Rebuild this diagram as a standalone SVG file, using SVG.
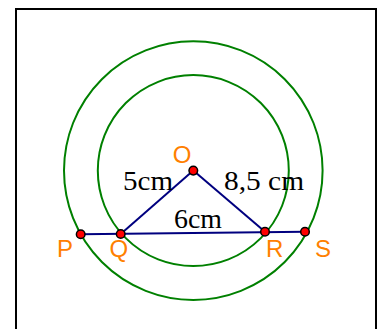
<svg xmlns="http://www.w3.org/2000/svg" width="383" height="329" viewBox="0 0 383 329">
<style>
.circ{fill:none;stroke:#008000;stroke-width:2}
.seg{stroke:#00007f;stroke-width:2;fill:none}
.pt{fill:#ff0000;stroke:#000;stroke-width:1.5}
.lbl{font-family:"Liberation Sans",Arial,sans-serif;font-size:24px;fill:#ff8000}
.len{font-family:"Liberation Serif","Times New Roman",serif;font-size:27px;fill:#000}
</style>
<rect x="16" y="9" width="360" height="330" fill="#fff" stroke="#000" stroke-width="2"/>
<g id="circles">
<circle id="outer" class="circ" cx="193.3" cy="170.6" r="129.3"/>
<circle id="inner" class="circ" cx="193.3" cy="170.6" r="95.5"/>
</g>
<g id="connectors">
<line class="seg" x1="80.7" y1="234.3" x2="305" y2="231.7"/>
<line class="seg" x1="120.7" y1="234" x2="193.3" y2="170.6"/>
<line class="seg" x1="193.3" y1="170.6" x2="265" y2="231.7"/>
</g>
<g id="O"><circle class="pt" cx="193.3" cy="170.6" r="4.3"/><text class="lbl" x="182" y="162.5" text-anchor="middle">O</text></g>
<g id="P"><circle class="pt" cx="80.7" cy="234.3" r="4.3"/><text class="lbl" x="57" y="257">P</text></g>
<g id="Q"><circle class="pt" cx="120.7" cy="234" r="4.3"/><text class="lbl" x="109.5" y="257">Q</text></g>
<g id="R"><circle class="pt" cx="265" cy="231.7" r="4.3"/><text class="lbl" x="266" y="257">R</text></g>
<g id="S"><circle class="pt" cx="305" cy="231.7" r="4.3"/><text class="lbl" x="315" y="257">S</text></g>
<g id="lengths">
<text class="len" x="123" y="190" textLength="50" lengthAdjust="spacingAndGlyphs">5cm</text>
<text class="len" x="224" y="190" textLength="80" lengthAdjust="spacingAndGlyphs">8,5 cm</text>
<text class="len" x="174" y="228" textLength="48" lengthAdjust="spacingAndGlyphs">6cm</text>
</g>
</svg>
